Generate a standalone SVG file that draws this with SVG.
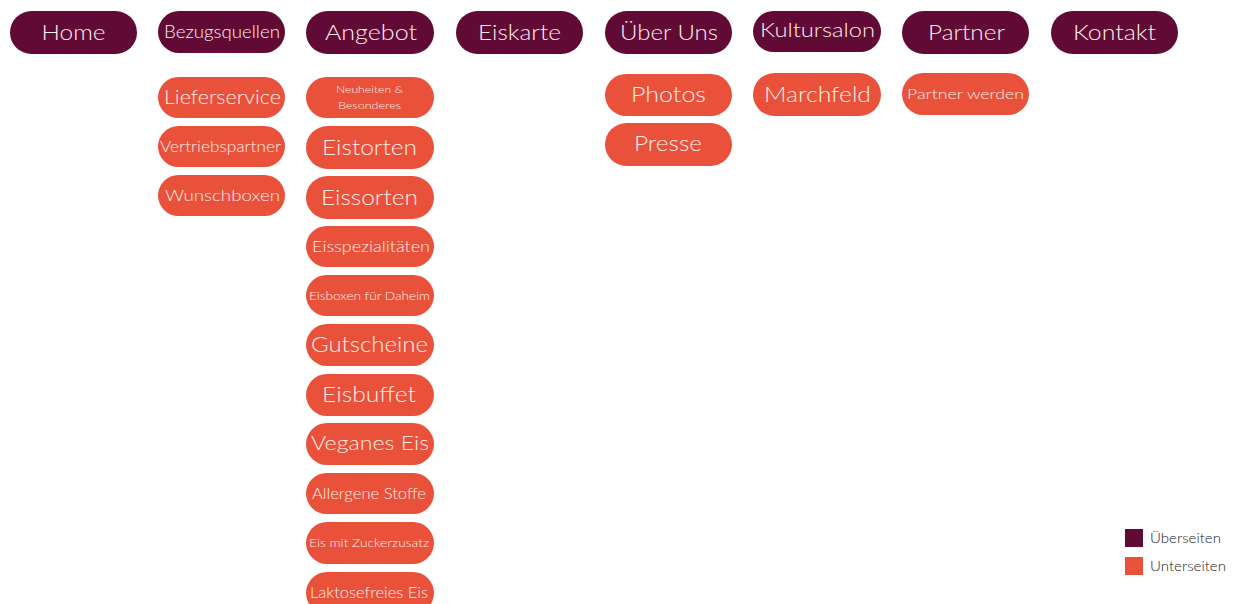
<svg xmlns="http://www.w3.org/2000/svg" width="1233" height="604" viewBox="0 0 1233 604">
<style>
.top rect{fill:#620a36}
.sub rect{fill:#ea513b}
text{font-family:"Lato","Noto Sans",sans-serif;font-weight:300;fill:#fbefe9;text-anchor:middle}
.leg text{fill:#222;text-anchor:start;font-size:13px}
</style>
<rect width="1233" height="604" fill="#fff"/>
<g id="home" class="top"><rect x="10" y="11" width="127" height="43" rx="21.5"/><text x="73.5" y="40" font-size="22" textLength="64" lengthAdjust="spacingAndGlyphs">Home</text></g>
<g id="bezugsquellen" class="top"><rect x="158" y="11" width="127" height="42" rx="21"/><text x="222" y="38" font-size="17" textLength="116" lengthAdjust="spacingAndGlyphs">Bezugsquellen</text></g>
<g id="angebot" class="top"><rect x="306" y="11" width="128" height="43" rx="21.5"/><text x="371" y="40" font-size="22" textLength="92" lengthAdjust="spacingAndGlyphs">Angebot</text></g>
<g id="eiskarte" class="top"><rect x="456" y="11" width="127" height="43" rx="21.5"/><text x="519.5" y="40" font-size="21" textLength="83" lengthAdjust="spacingAndGlyphs">Eiskarte</text></g>
<g id="ueber-uns" class="top"><rect x="605" y="11" width="127" height="43" rx="21.5"/><text x="669" y="40" font-size="21" textLength="98" lengthAdjust="spacingAndGlyphs">Über Uns</text></g>
<g id="kultursalon" class="top"><rect x="753" y="11" width="128" height="41" rx="20.5"/><text x="817.5" y="37" font-size="20" textLength="115" lengthAdjust="spacingAndGlyphs">Kultursalon</text></g>
<g id="partner" class="top"><rect x="902" y="11" width="127" height="43" rx="21.5"/><text x="966.5" y="40" font-size="21" textLength="77" lengthAdjust="spacingAndGlyphs">Partner</text></g>
<g id="kontakt" class="top"><rect x="1051" y="11" width="127" height="43" rx="21.5"/><text x="1114.5" y="40" font-size="21" textLength="83" lengthAdjust="spacingAndGlyphs">Kontakt</text></g>

<g id="lieferservice" class="sub"><rect x="158" y="77" width="127" height="41" rx="20.5"/><text x="222.5" y="104" font-size="20" textLength="117" lengthAdjust="spacingAndGlyphs">Lieferservice</text></g>
<g id="vertriebspartner" class="sub"><rect x="158" y="126" width="127" height="41" rx="20.5"/><text x="220.5" y="152" font-size="15" textLength="121" lengthAdjust="spacingAndGlyphs">Vertriebspartner</text></g>
<g id="wunschboxen" class="sub"><rect x="158" y="175" width="127" height="41" rx="20.5"/><text x="222.5" y="201" font-size="16.5" textLength="115" lengthAdjust="spacingAndGlyphs">Wunschboxen</text></g>

<g id="neuheiten" class="sub"><rect x="306" y="77" width="128" height="41" rx="20.5"/><text x="369.5" y="93" font-size="10" textLength="67" lengthAdjust="spacingAndGlyphs">Neuheiten &amp;</text><text x="369.5" y="109" font-size="10" textLength="63" lengthAdjust="spacingAndGlyphs">Besonderes</text></g>
<g id="eistorten" class="sub"><rect x="306" y="126" width="128" height="43" rx="21.5"/><text x="369.5" y="155" font-size="22" textLength="95" lengthAdjust="spacingAndGlyphs">Eistorten</text></g>
<g id="eissorten" class="sub"><rect x="306" y="176" width="128" height="43" rx="21.5"/><text x="369.5" y="205" font-size="22" textLength="97" lengthAdjust="spacingAndGlyphs">Eissorten</text></g>
<g id="eisspezialitaeten" class="sub"><rect x="306" y="226" width="128" height="41" rx="20.5"/><text x="371" y="252" font-size="16" textLength="118" lengthAdjust="spacingAndGlyphs">Eisspezialitäten</text></g>
<g id="eisboxen" class="sub"><rect x="306" y="275" width="128" height="41" rx="20.5"/><text x="369.5" y="300" font-size="12" textLength="121" lengthAdjust="spacingAndGlyphs">Eisboxen für Daheim</text></g>
<g id="gutscheine" class="sub"><rect x="306" y="324" width="128" height="42" rx="21"/><text x="369.5" y="352" font-size="21" textLength="117" lengthAdjust="spacingAndGlyphs">Gutscheine</text></g>
<g id="eisbuffet" class="sub"><rect x="306" y="374" width="128" height="42" rx="21"/><text x="369" y="402" font-size="22" textLength="94" lengthAdjust="spacingAndGlyphs">Eisbuffet</text></g>
<g id="veganes-eis" class="sub"><rect x="306" y="423" width="128" height="42" rx="21"/><text x="370" y="450" font-size="20" textLength="118" lengthAdjust="spacingAndGlyphs">Veganes Eis</text></g>
<g id="allergene-stoffe" class="sub"><rect x="306" y="473" width="128" height="41" rx="20.5"/><text x="369" y="499" font-size="15.5" textLength="114" lengthAdjust="spacingAndGlyphs">Allergene Stoffe</text></g>
<g id="zuckerzusatz" class="sub"><rect x="306" y="522" width="128" height="42" rx="21"/><text x="369" y="547" font-size="11.5" textLength="120" lengthAdjust="spacingAndGlyphs">Eis mit Zuckerzusatz</text></g>
<g id="laktosefrei" class="sub"><rect x="306" y="572" width="128" height="42" rx="21"/><text x="369" y="598" font-size="15.5" textLength="118" lengthAdjust="spacingAndGlyphs">Laktosefreies Eis</text></g>

<g id="photos" class="sub"><rect x="605" y="74" width="127" height="42" rx="21"/><text x="668.5" y="102" font-size="21" textLength="75" lengthAdjust="spacingAndGlyphs">Photos</text></g>
<g id="presse" class="sub"><rect x="605" y="123" width="127" height="43" rx="21.5"/><text x="668" y="151" font-size="21" textLength="68" lengthAdjust="spacingAndGlyphs">Presse</text></g>
<g id="marchfeld" class="sub"><rect x="753" y="73" width="128" height="43" rx="21.5"/><text x="817.5" y="102" font-size="22" textLength="107" lengthAdjust="spacingAndGlyphs">Marchfeld</text></g>
<g id="partner-werden" class="sub"><rect x="902" y="73" width="127" height="42" rx="21"/><text x="965.5" y="99" font-size="14" textLength="117" lengthAdjust="spacingAndGlyphs">Partner werden</text></g>

<g id="legend" class="leg">
<rect x="1125" y="529" width="18" height="18" fill="#620a36"/><text x="1150" y="543" textLength="71" lengthAdjust="spacingAndGlyphs">Überseiten</text>
<rect x="1125" y="557" width="18" height="18" fill="#ea513b"/><text x="1150" y="571" textLength="76" lengthAdjust="spacingAndGlyphs">Unterseiten</text>
</g>
</svg>
